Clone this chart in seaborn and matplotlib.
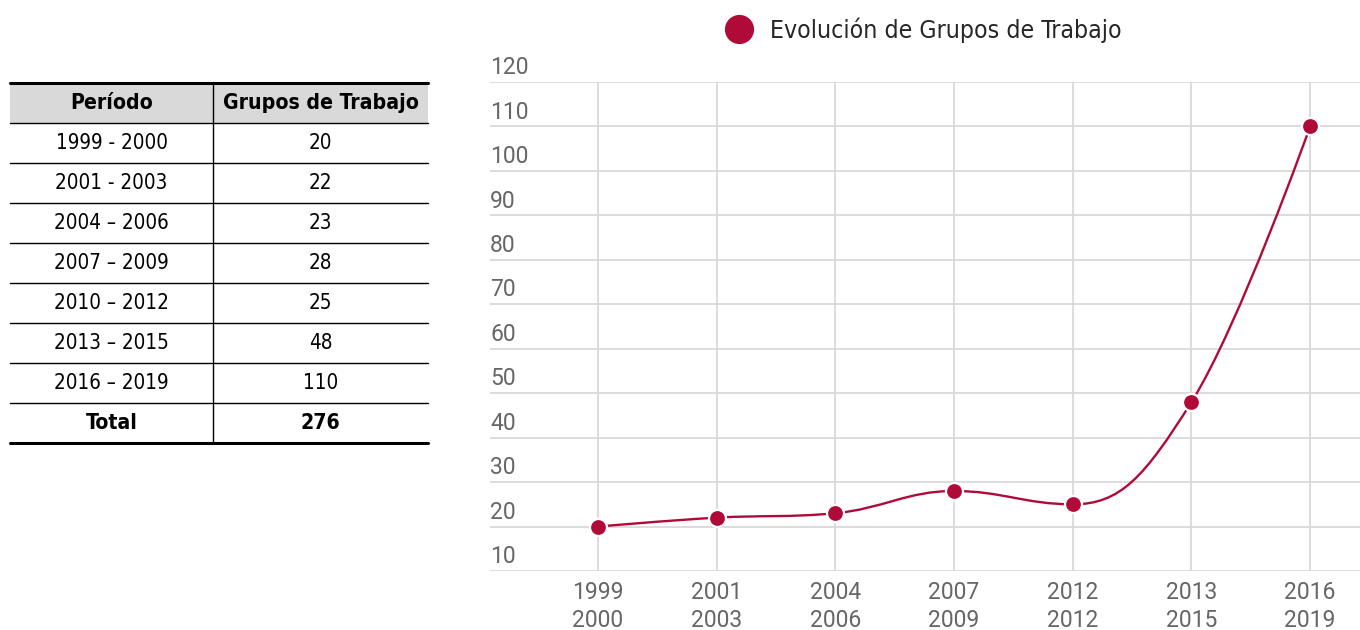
import matplotlib
matplotlib.use("Agg")
import matplotlib.pyplot as plt
import matplotlib.font_manager as fm
from matplotlib.path import Path
from matplotlib.patches import PathPatch, Rectangle
from matplotlib.lines import Line2D
import matplotlib.transforms as mtransforms
import seaborn as sns
import numpy as np

# Data
periodos = ["1999 - 2000", "2001 - 2003", "2004 \u2013 2006", "2007 \u2013 2009",
            "2010 \u2013 2012", "2013 \u2013 2015", "2016 \u2013 2019"]
grupos = [20, 22, 23, 28, 25, 48, 110]
x_labels = ["1999\n2000", "2001\n2003", "2004\n2006", "2007\n2009",
            "2012\n2012", "2013\n2015", "2016\n2019"]
y_ticks = [10, 20, 30, 40, 50, 60, 70, 80, 90, 100, 110, 120]
serie_nombre = "Evolución de Grupos de Trabajo"

RED = "#b00b38"
GRID = "#d9d9d9"
TICK = "#666666"

sns.set_theme(style="whitegrid")
plt.rcParams["font.family"] = ["Roboto", "DejaVu Sans"]

# look for a narrow face; otherwise Lato is the slimmest of the installed ones
narrow = None
for f in fm.fontManager.ttflist:
    if "Condensed" in f.name or "Narrow" in f.name:
        narrow = f.name
        break
    if str(f.stretch) in ("condensed", "semi-condensed", "extra-condensed"):
        narrow = f.name
        break
if narrow:
    NARROW = {"family": [narrow, "DejaVu Sans"], "stretch": "condensed"}
    scale = 1.0
else:
    NARROW = {"family": ["Lato", "DejaVu Sans"]}
    scale = 0.95


def spline_path(xs, ys, smoothing=1.5):
    # smooth curve like a "spline" series: bezier control points per point
    denom = smoothing + 1
    n = len(xs)
    left = [None] * n
    right = [None] * n
    for i in range(n):
        if i == 0 or i == n - 1:
            left[i] = right[i] = (xs[i], ys[i])
            continue
        lx, ly = xs[i - 1], ys[i - 1]
        px, py = xs[i], ys[i]
        nx, ny = xs[i + 1], ys[i + 1]
        lcx = (smoothing * px + lx) / denom
        lcy = (smoothing * py + ly) / denom
        rcx = (smoothing * px + nx) / denom
        rcy = (smoothing * py + ny) / denom
        corr = (rcy - lcy) * (rcx - px) / (rcx - lcx) + py - rcy
        lcy += corr
        rcy += corr
        if lcy > ly and lcy > py:
            lcy = max(ly, py); rcy = 2 * py - lcy
        elif lcy < ly and lcy < py:
            lcy = min(ly, py); rcy = 2 * py - lcy
        if rcy > ny and rcy > py:
            rcy = max(ny, py); lcy = 2 * py - rcy
        elif rcy < ny and rcy < py:
            rcy = min(ny, py); lcy = 2 * py - rcy
        left[i] = (lcx, lcy)
        right[i] = (rcx, rcy)
    verts = [(xs[0], ys[0])]
    codes = [Path.MOVETO]
    for i in range(1, n):
        verts += [right[i - 1], left[i], (xs[i], ys[i])]
        codes += [Path.CURVE4] * 3
    return Path(verts, codes)


fig = plt.figure(figsize=(13.6, 6.3), dpi=100)

# ---------------- chart ----------------
W, H = 1360, 630
ax = fig.add_axes([490 / W, 1 - 571 / H, 870 / W, (571 - 82) / H])
xs = np.arange(len(grupos))

ax.add_patch(PathPatch(spline_path(list(xs), grupos), fill=False,
                       edgecolor=RED, linewidth=1.7, zorder=3))
sns.scatterplot(x=xs, y=grupos, ax=ax, color=RED, s=150, edgecolor="white",
                linewidth=1.6, zorder=4, legend=False)

ax.set_xlim(-0.91, 6.42)
ax.set_ylim(10, 120)
ax.set_xticks(xs)
ax.set_xticklabels(x_labels, color=TICK, fontsize=16.5, linespacing=1.3)
ax.set_yticks(y_ticks)
ax.set_yticklabels([])
ax.tick_params(axis="both", length=0)
ax.tick_params(axis="x", pad=7)
ax.grid(True, color=GRID, linewidth=1.3)
for s in ax.spines.values():
    s.set_visible(False)
ax.set_xlabel("")
ax.set_ylabel("")

lab_tr = ax.get_yaxis_transform() + mtransforms.ScaledTranslation(0, 2 / 72, fig.dpi_scale_trans)
for v in y_ticks:
    ax.text(0, v, str(v), transform=lab_tr, ha="left", va="bottom",
            color=TICK, fontsize=16.5)

fig.legend(handles=[Line2D([], [], marker="o", ls="", color=RED, markersize=20)],
           labels=[serie_nombre], loc="center left",
           bbox_to_anchor=(727 / W, 1 - 30 / H), frameon=False,
           borderpad=0, borderaxespad=0, handlelength=1.0, handletextpad=0.75,
           prop=dict(NARROW, size=17.8 * scale, weight="light"))

# ---------------- table ----------------
tab = fig.add_axes([10 / W, 1 - 443 / H, 418 / W, 360 / H])
tab.set_xlim(0, 1)
tab.set_ylim(len(periodos) + 2, 0)
tab.axis("off")
split = 203 / 418
c1, c2 = split / 2, (1 + split) / 2
fs = 14.8 * scale
fsb = 15.2 * scale

tab.add_patch(Rectangle((0, 0), 1, 1, color="#d9d9d9", lw=0))
tab.text(c1, 0.5, "Período", ha="center", va="center", fontsize=fsb,
         fontweight="bold", color="black", **NARROW)
tab.text(c2, 0.5, "Grupos de Trabajo", ha="center", va="center", fontsize=fsb,
         fontweight="bold", color="black", **NARROW)
for i, (p, g) in enumerate(zip(periodos, grupos)):
    r = i + 1.5
    tab.text(c1, r, p, ha="center", va="center", fontsize=fs, color="black", **NARROW)
    tab.text(c2, r, str(g), ha="center", va="center", fontsize=fs, color="black", **NARROW)
tot = len(periodos) + 1.5
tab.text(c1, tot, "Total", ha="center", va="center", fontsize=fsb,
         fontweight="bold", color="black", **NARROW)
tab.text(c2, tot, str(sum(grupos)), ha="center", va="center", fontsize=fsb,
         fontweight="bold", color="black", **NARROW)

for r in range(1, len(periodos) + 2):
    tab.axhline(r, color="black", lw=1.0, clip_on=False)
tab.axhline(0, color="black", lw=2.2, clip_on=False)
tab.axhline(len(periodos) + 2, color="black", lw=2.2, clip_on=False)
tab.axvline(split, color="black", lw=1.0, clip_on=False)

fig.savefig("out.png", dpi=100)
